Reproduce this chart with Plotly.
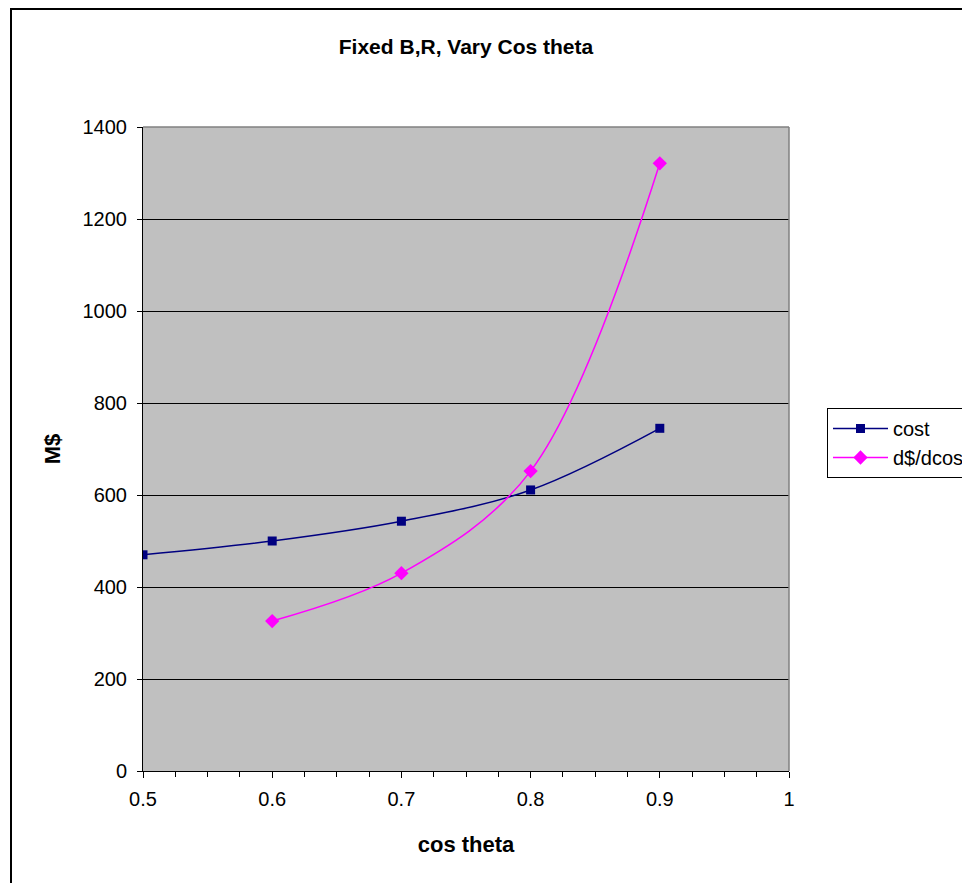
import plotly.graph_objects as go

cos_theta = [0.5, 0.6, 0.7, 0.8, 0.9]
cost = [470, 500, 543, 611, 745]
dcos_x = [0.6, 0.7, 0.8, 0.9]
dcos = [326, 430, 652, 1321]

FONT = "Liberation Sans, Arial, sans-serif"

# page is offset by the 8px body margin
W, H = 962, 875
L, T = 135, 119
PW, PH = 646, 644

fig = go.Figure()
fig.add_trace(go.Scatter(
    x=cos_theta, y=cost, name="cost", mode="lines+markers",
    line=dict(color="#000080", width=1.5, shape="spline", smoothing=1.0),
    marker=dict(symbol="square", size=9, color="#000080"),
))
fig.add_trace(go.Scatter(
    x=dcos_x, y=dcos, name="d$/dcos", mode="lines+markers",
    line=dict(color="#FF00FF", width=1.5, shape="spline", smoothing=1.0),
    marker=dict(symbol="diamond", size=11, color="#FF00FF"),
))

fig.update_layout(
    width=W, height=H,
    margin=dict(l=L, r=W - L - PW, t=T, b=H - T - PH, pad=0, autoexpand=False),
    paper_bgcolor="white", plot_bgcolor="#C0C0C0",
    font=dict(family=FONT, size=20, color="black"),
    title=dict(text="<b>Fixed B,R, Vary Cos theta</b>", x=(L + PW / 2) / W,
               xanchor="center", y=1 - 39 / H, yanchor="middle",
               font=dict(size=21, family=FONT)),
    showlegend=True,
    legend=dict(x=(819 - L) / PW, y=1 - (400 - T) / PH, xanchor="left", yanchor="top",
                bgcolor="white", bordercolor="black", borderwidth=1,
                font=dict(size=20, family=FONT), tracegroupgap=0,
                itemwidth=55),
    xaxis=dict(range=[0.5, 1.0], dtick=0.1, tick0=0.5, showgrid=False,
               zeroline=False, showline=True, linecolor="black", linewidth=1,
               ticks="outside", ticklen=6, tickcolor="black",
               minor=dict(dtick=0.025, ticks="outside", ticklen=5, tickcolor="black", showgrid=False),
               tickfont=dict(size=20), ticklabelstandoff=4,
               title=dict(text="<b>cos theta</b>", font=dict(size=22), standoff=27),
               mirror=False),
    yaxis=dict(range=[0, 1400], dtick=200, showgrid=True, gridcolor="black", gridwidth=1,
               zeroline=False, showline=True, linecolor="black", linewidth=1,
               ticks="outside", ticklen=5, tickcolor="black",
               tickfont=dict(size=20), ticklabelstandoff=6,
               title=dict(text="<b>M$</b>", font=dict(size=22), standoff=15)),
)

# plot area top/right gray border
fig.add_shape(type="line", xref="paper", yref="paper", x0=0, x1=1, y0=1, y1=1,
              line=dict(color="#808080", width=1.5))
fig.add_shape(type="line", xref="paper", yref="paper", x0=1, x1=1, y0=0, y1=1,
              line=dict(color="#808080", width=1.5))
# outer chart border
fig.add_shape(type="rect", xref="paper", yref="paper",
              x0=(3 - L) / PW, x1=1.5, y0=1 + (T - 1) / PH, y1=-0.5,
              line=dict(color="black", width=2), layer="below")

fig.write_html("out.html")
